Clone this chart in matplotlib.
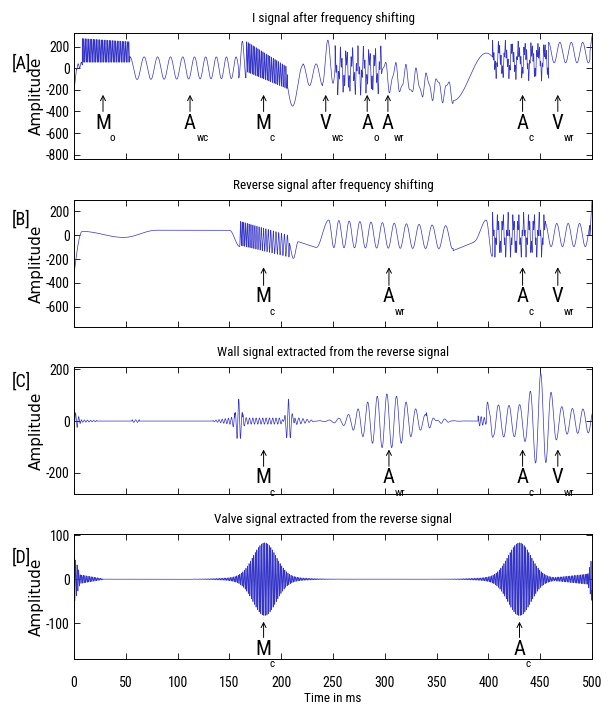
import numpy as np
import matplotlib.pyplot as plt
from matplotlib import font_manager

# pick a narrow face if one is installed (the original uses a condensed font)
_fonts = font_manager.fontManager.ttflist
_names = {f.name for f in _fonts}
NARROW_STRETCH = 'normal'
if 'Liberation Sans Narrow' in _names:
    NARROW = 'Liberation Sans Narrow'
elif 'Roboto Condensed' in _names:
    NARROW = 'Roboto Condensed'
elif any(f.name == 'DejaVu Sans' and 'condensed' in str(f.stretch) for f in _fonts):
    NARROW = 'DejaVu Sans'
    NARROW_STRETCH = 'condensed'
elif 'Liberation Sans' in _names:
    NARROW = 'Liberation Sans'
else:
    NARROW = 'DejaVu Sans'

plt.rcParams['font.family'] = [NARROW, 'DejaVu Sans']
plt.rcParams['font.stretch'] = NARROW_STRETCH
plt.rcParams['axes.unicode_minus'] = False

# time axis in ms
t = np.arange(0, 500.0001, 0.02)

# signal pieces
# (t0, t1, period0, period1, amp0, amp1, mid0, mid1, phase)
A_SEGS = [
    (0, 2.5, 0, 0, 0, 0, -210, 0, 0),
    (2.5, 8, 3, 3, 25, 20, 10, 40, 0.5),
    (8, 54, 1.5, 1.6, 110, 95, 165, 150, 0),
    (54, 159, 14, 9, 105, 100, 0, 5, 0),
    (159, 166, 7, 7, 170, 170, 80, 80, 0.5),
    (166, 206, 1.5, 1.8, 140, 100, 110, -90, 0.5),
    (206, 221, 20, 20, 190, 190, -160, -160, 0.25),
    (221, 240, 12.7, 12.7, 100, 100, -60, -60, 0),
    (240, 252, 10, 10, 200, 200, 60, 60, 0.5),
    (252, 297, 5.5, 5.5, 140, 140, -20, -20, 0),
    (252, 297, 1.7, 1.7, 90, 90, 0, 0, 0),
    (297, 366, 10.17, 10.17, 130, 85, -60, -220, 0.713),
    (297, 366, 4.7, 4.7, 40, 30, 0, 0, 0),
    (366, 404, 64, 64, 220, 220, -80, -80, 0.5),
    (404, 458, 6.3, 6.3, 110, 110, 80, 80, 0),
    (404, 458, 1.37, 1.37, 60, 60, 0, 0, 0),
    (404, 458, 3.1, 3.1, 30, 30, 0, 0, 0.2),
    (458, 498, 11, 11, 95, 95, 145, 145, 0),
    (498, 500, 0, 0, 0, 0, 150, 300, 0),
]
B_SEGS = [
    (0, 8, 32, 32, 360, 360, -330, -330, 0.75),
    (8, 48, 80, 80, 25, 25, 5, 5, 0),
    (48, 80, 64, 64, 30, 30, 10, 10, 0.5),
    (80, 150, 0, 0, 0, 0, 40, 40, 0),
    (150, 160, 20, 20, 68, 68, -28, -28, 0),
    (160, 208, 1.5, 3.0, 100, 90, 15, -95, 0.5),
    (208, 216.7, 9.4, 9.4, 70, 70, -125, -125, 0.1),
    (216.7, 233.7, 0, 0, 0, 0, -56, -105, 0),
    (233.7, 246, 24.6, 24.6, 115, 115, 10, 10, 0.5),
    (246, 366, 9.5, 13.5, 115, 95, 10, -20, 0),
    (366, 386, 0, 0, 0, 0, -130, -60, 0),
    (386, 398, 24, 24, 90, 90, 35, 35, 0.5),
    (398, 404, 11, 11, 150, 150, -28, -28, 0),
    (404, 455, 5, 5, 120, 120, 0, 0, 0),
    (404, 455, 1.5, 1.5, 70, 70, 0, 0, 0),
    (455, 498, 11, 11, 97, 97, 0, 0, 0),
    (498, 500, 0, 0, 0, 0, 0, 290, 0),
]
C_SEGS = [
    (0, 7, 3.0, 3.0, 40, 4, 0, 0, 0.5),
    (7, 22, 3.0, 3.0, 5, 2, 0, 0, 0),
    (56, 63, 3.5, 3.5, 5, 5, 0, 0, 0),
    (134, 155, 3, 3, 2, 15, 0, 0, 0),
    (163, 204, 3.2, 3.2, 12, 12, 0, 0, 0),
    (213, 232, 4, 4, 15, 2, 0, 0, 0),
    (340, 365, 6, 6, 12, 1, 0, 0, 0),
    (390, 410, 3, 3, 20, 0, 0, 0, 0),
    (398, 500, 10.2, 10.2, 65, 45, 0, 0, 0.853),
]
D_SEGS = [
    (0, 6, 1.5, 1.5, 55, 10, 0, 0, 0),
    (6, 28, 1.5, 1.5, 10, 1, 0, 0, 0),
    (465, 496, 1.5, 1.5, 5, 12, 0, 0, 0),
    (496, 500, 1.5, 1.5, 12, 50, 0, 0, 0),
]
# gaussian bursts: (centre, width, period, amp)
A_BURSTS = []
B_BURSTS = []
C_BURSTS = [(159, 2.5, 3.5, 85), (207, 2.5, 3.8, 85), (302, 22, 9.3, 105),
            (450.5, 8, 10.2, 130)]
D_BURSTS = [(184, 11, 1.5, 77), (184, 28, 1.5, 6), (430, 11, 1.5, 77),
            (430, 30, 1.5, 6)]

titles = ['I signal after frequency shifting',
          'Reverse signal after frequency shifting',
          'Wall signal extracted from the reverse signal',
          'Valve signal extracted from the reverse signal']
panel_tags = ['[A]', '[B]', '[C]', '[D]']
ylims = [(-840, 326), (-767, 292), (-282, 209), (-182, 103)]
yticks = [[-800, -600, -400, -200, 0, 200], [-600, -400, -200, 0, 200],
          [-200, 0, 200], [-100, 0, 100]]

# event markers
A_MARK_T = [28, 112, 183, 243, 283, 303, 433, 467]
A_MARK = ['M', 'A', 'M', 'V', 'A', 'A', 'A', 'V']
A_SUB = ['o', 'wc', 'c', 'wc', 'o', 'wr', 'c', 'wr']
B_MARK_T = [183, 304, 433, 467]
B_MARK = ['M', 'A', 'A', 'V']
B_SUB = ['c', 'wr', 'c', 'wr']
C_MARK_T = [183, 304, 433, 467]
C_MARK = ['M', 'A', 'A', 'V']
C_SUB = ['c', 'wr', 'c', 'wr']
D_MARK_T = [183, 430]
D_MARK = ['M', 'A']
D_SUB = ['c', 'c']
# arrow tip / tail in data units for each panel
arrow_tip = [-246, -269, -110, -97]
arrow_tail = [-400, -420, -175, -133]


def render(segs, bursts):
    y = np.zeros_like(t)
    for t0, t1, p0, p1, a0, a1, m0, m1, ph in segs:
        m = (t >= t0) & ((t < t1) | (t1 >= 500))
        tt = t[m]
        f = (tt - t0) / (t1 - t0)
        amp = a0 + (a1 - a0) * f
        mid = m0 + (m1 - m0) * f
        if p0 <= 0:
            osc = 0
        elif p0 == p1:
            osc = np.cos(2 * np.pi * ((tt - t0) / p0 + ph))
        else:
            k = (p1 - p0) / (t1 - t0)
            cyc = np.log((p0 + k * (tt - t0)) / p0) / k
            osc = np.cos(2 * np.pi * (cyc + ph))
        y[m] += mid + amp * osc
    for c, s, p, a in bursts:
        y += a * np.exp(-0.5 * ((t - c) / s) ** 2) * np.cos(2 * np.pi * (t - c) / p)
    return y


signals = [render(A_SEGS, A_BURSTS), render(B_SEGS, B_BURSTS),
           render(C_SEGS, C_BURSTS), render(D_SEGS, D_BURSTS)]
marks = [(A_MARK_T, A_MARK, A_SUB), (B_MARK_T, B_MARK, B_SUB),
         (C_MARK_T, C_MARK, C_SUB), (D_MARK_T, D_MARK, D_SUB)]

fig = plt.figure(figsize=(6.11, 7.08), dpi=100)
W, H = 611.0, 708.0
# axes top/bottom in pixels
boxes = [(33, 159), (200, 327), (367, 494), (534, 659)]
tag_y = [64, 220, 382, 558]

for i in range(4):
    top, bot = boxes[i]
    ax = fig.add_axes([74 / W, 1 - bot / H, 518 / W, (bot - top) / H])
    ax.plot(t, signals[i], color=(0.2, 0.2, 0.78), lw=0.5)
    ax.set_xlim(0, 500)
    ax.set_ylim(*ylims[i])
    ax.set_xticks(np.arange(0, 501, 50))
    ax.set_yticks(yticks[i])
    ax.tick_params(direction='in', top=True, right=True, length=4, width=0.6,
                   labelsize=10, pad=3)
    for s in ax.spines.values():
        s.set_linewidth(0.7)
    ax.set_title(titles[i], fontsize=9.5, pad=8)
    ax.set_ylabel('Amplitude', family='DejaVu Sans', stretch='normal', fontsize=11)
    ax.yaxis.set_label_coords(-0.058, 0.5)
    if i < 3:
        ax.tick_params(labelbottom=False)
    else:
        ax.tick_params(axis='x', pad=12)
        ax.set_xlabel('Time in ms', fontsize=9.5, labelpad=2)
    fig.text(21 / W, 1 - tag_y[i] / H, panel_tags[i], ha='center', va='center',
             fontsize=13)

    mt, ml, ms = marks[i]
    for x, lab, sub in zip(mt, ml, ms):
        ax.annotate('', xy=(x, arrow_tip[i]), xytext=(x, arrow_tail[i]),
                    arrowprops=dict(arrowstyle='->,head_length=0.35,head_width=0.18',
                                    lw=0.7, color='k', shrinkA=0, shrinkB=0))
        ax.annotate(lab, xy=(x, arrow_tail[i]), xytext=(0, -1.5),
                    textcoords='offset points', ha='center', va='top', fontsize=15)
        ax.annotate(sub, xy=(x, arrow_tail[i]), xytext=(4.5, -15.5),
                    textcoords='offset points', ha='left', va='top', fontsize=8)

fig.savefig('out.png', dpi=100)
